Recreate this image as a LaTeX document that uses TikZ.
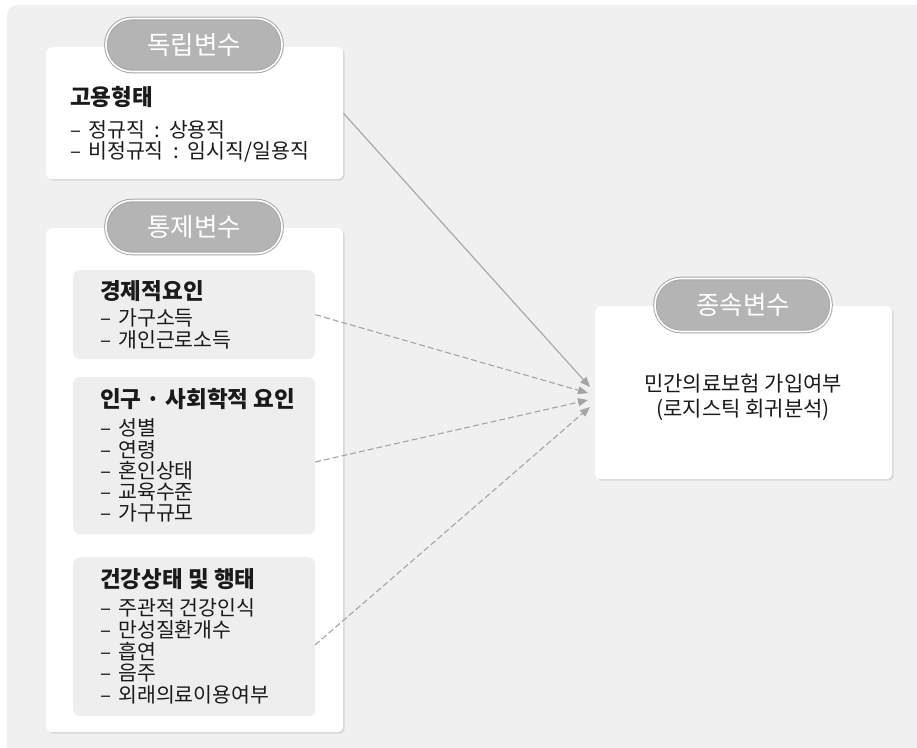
\documentclass[tikz,border=0pt]{standalone}
\usepackage{fontspec}
\setmainfont{Noto Sans CJK KR}
\usetikzlibrary{arrows.meta}
\definecolor{bg}{HTML}{F0F0F0}
\definecolor{subfill}{HTML}{EEEEEE}
\definecolor{pillfill}{HTML}{B4B4B4}
\definecolor{pillline}{HTML}{A8A8A8}
\definecolor{arr}{HTML}{A4A4A4}
\definecolor{txt}{HTML}{1A1A1A}
\definecolor{shade}{HTML}{D6D6D6}
\newcommand\mydsh{–\hspace{0.35em}}
\newcommand\mycln{\hspace{0.45em}:\hspace{0.45em}}
\begin{document}
\begin{tikzpicture}[x=1pt,y=-1pt,
  whitebox/.style={fill=white, rounded corners=6pt, draw=none, inner sep=0pt, anchor=north west},
  shadowbox/.style={fill=shade, rounded corners=6pt, draw=none, inner sep=0pt, anchor=north west},
  subbox/.style={fill=subfill, rounded corners=7pt, draw=none, inner sep=0pt, anchor=north west},
  pill/.style={fill=pillfill, draw=pillline, line width=1pt, double=white, double distance=1.6pt,
    rounded corners=26pt, minimum width=176pt, minimum height=53pt, inner sep=0pt,
    text=white, font=\fontsize{25.5}{30}\selectfont},
  ttl/.style={anchor=west, inner sep=0pt, text=txt, font=\bfseries\fontsize{22.5}{26}\selectfont},
  itm/.style={anchor=west, inner sep=0pt, text=txt, font=\fontsize{20.5}{24}\selectfont},
  dep/.style={inner sep=0pt, text=txt, align=center, font=\fontsize{21}{25}\selectfont},
  conn/.style={draw=arr, line width=1.1pt, -{Triangle[length=10pt,width=8pt]}},
  dconn/.style={conn, dash pattern=on 6pt off 3pt}
]
\useasboundingbox (0,0) rectangle (917,747);
% background
\fill[bg, rounded corners=10pt] (7,5) rectangle (935,765);

% shadows
\node[shadowbox, minimum width=297pt, minimum height=132pt] (indepsh) at (47.5,48.5) {};
\node[shadowbox, minimum width=297pt, minimum height=504pt] (ctrlsh) at (47.5,229.5) {};
\node[shadowbox, minimum width=297pt, minimum height=173pt] (depsh) at (596.5,307.5) {};

% white boxes
\node[whitebox, minimum width=297pt, minimum height=132pt] (indep) at (46,47) {};
\node[whitebox, minimum width=297pt, minimum height=504pt] (ctrl) at (46,228) {};
\node[whitebox, minimum width=297pt, minimum height=173pt] (dep) at (595,306) {};

% sub boxes
\node[subbox, minimum width=242pt, minimum height=89pt] (sub1) at (73,270) {};
\node[subbox, minimum width=242pt, minimum height=157pt] (sub2) at (73,377) {};
\node[subbox, minimum width=242pt, minimum height=159pt] (sub3) at (73,557) {};

% pills
\node[pill] (pindep) at (194,45) {독립변수};
\node[pill] (pctrl) at (194,227) {통제변수};
\node[pill] (pdep) at (743,305) {종속변수};

% independent
\node[ttl] (t1) at (70,97) {고용형태};
\node[itm] (i11) at (70,130) {\mydsh 정규직\mycln 상용직};
\node[itm] (i12) at (70,152) {\mydsh 비정규직\mycln 임시직/일용직};

% sub1
\node[ttl] (t2) at (100,291) {경제적요인};
\node[itm] (i21) at (100,318) {\mydsh 가구소득};
\node[itm] (i22) at (100,340) {\mydsh 개인근로소득};

% sub2
\node[ttl] (t3) at (100,399) {인구 · 사회학적 요인};
\node[itm] (i31) at (100,428) {\mydsh 성별};
\node[itm] (i32) at (100,450) {\mydsh 연령};
\node[itm] (i33) at (100,471) {\mydsh 혼인상태};
\node[itm] (i34) at (100,492) {\mydsh 교육수준};
\node[itm] (i35) at (100,513) {\mydsh 가구규모};

% sub3
\node[ttl] (t4) at (100,579) {건강상태 및 행태};
\node[itm] (i41) at (100,608) {\mydsh 주관적 건강인식};
\node[itm] (i42) at (100,630) {\mydsh 만성질환개수};
\node[itm] (i43) at (100,652) {\mydsh 흡연};
\node[itm] (i44) at (100,673) {\mydsh 음주};
\node[itm] (i45) at (100,695) {\mydsh 외래의료이용여부};

% dependent text
\node[dep] (deptext) at (743,397) {민간의료보험 가입여부\\(로지스틱 회귀분석)};

% arrow targets
\coordinate (e1) at (590,387);
\coordinate (e2) at (588,393);
\coordinate (e3) at (588,400);
\coordinate (e4) at (590,407);
\coordinate (s3) at (315,462);
\coordinate (s4) at (315,645);

\draw[conn] (indep.east) -- (e1);
\draw[dconn] (sub1.east) -- (e2);
\draw[dconn] (s3) -- (e3);
\draw[dconn] (s4) -- (e4);
\end{tikzpicture}
\end{document}
